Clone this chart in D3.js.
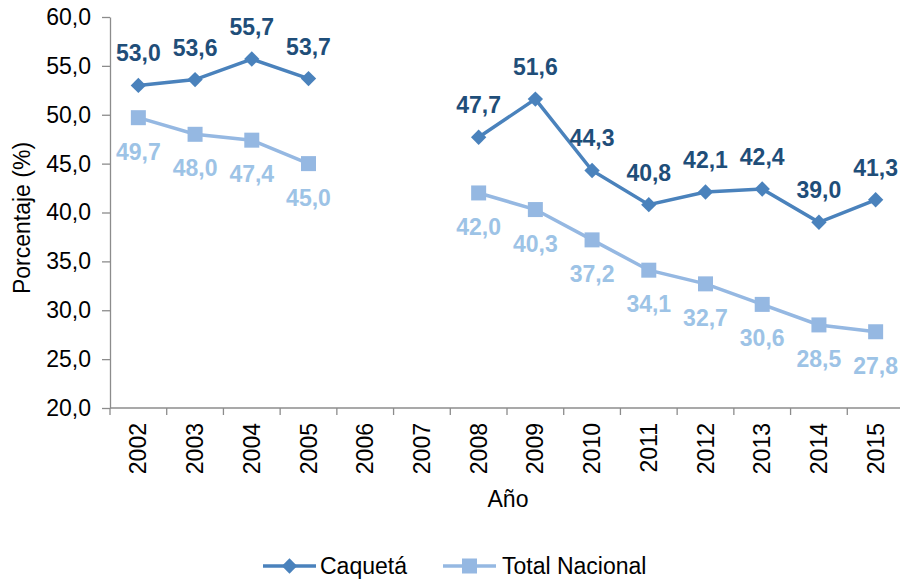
<!DOCTYPE html>
<meta charset="utf-8">
<head>
<style>
  body { margin: 0; background: #fff; }
  text { font-family: "Liberation Sans", Arial, sans-serif; }
  .axis line, .axis path { stroke: #8c8c8c; stroke-width: 1.3px; }
</style>
</head>
<body>
<script src="https://d3js.org/d3.v7.min.js"></script>
<script>

// data
var years = ["2002","2003","2004","2005","2006","2007","2008","2009","2010","2011","2012","2013","2014","2015"];
var caqueta = [53.0, 53.6, 55.7, 53.7, null, null, 47.7, 51.6, 44.3, 40.8, 42.1, 42.4, 39.0, 41.3];
var nacional = [49.7, 48.0, 47.4, 45.0, null, null, 42.0, 40.3, 37.2, 34.1, 32.7, 30.6, 28.5, 27.8];
var yTicks = [20, 25, 30, 35, 40, 45, 50, 55, 60];

var W = 900, H = 582;
var mLeft = 110, mRight = 904, mTop = 17, mBottom = 408;
var fs = 23;

var svg = d3.select("body").append("svg")
    .attr("width", W)
    .attr("height", H);

var x = d3.scaleBand().domain(years).range([mLeft, mRight]);
var y = d3.scaleLinear().domain([20, 60]).range([mBottom, mTop]);
var fmt = function(v) { return d3.format(".1f")(v).replace(".", ","); };

// y axis
var yAxis = svg.append("g")
    .attr("class", "axis")
    .attr("transform", "translate(" + mLeft + ",0)")
    .call(d3.axisLeft(y).tickValues(yTicks).tickSize(8).tickSizeOuter(0).tickFormat(fmt));
yAxis.selectAll("text")
    .attr("font-size", fs)
    .attr("font-family", "Liberation Sans, Arial, sans-serif")
    .attr("fill", "#000")
    .attr("x", -19);

// x axis: ticks at band edges
var xg = svg.append("g").attr("class", "axis");
xg.append("line")
    .attr("x1", mLeft).attr("x2", mRight)
    .attr("y1", mBottom).attr("y2", mBottom);
xg.selectAll(".tk")
    .data(years)
    .enter().append("line")
    .attr("x1", d => x(d)).attr("x2", d => x(d))
    .attr("y1", mBottom).attr("y2", mBottom + 7);
xg.selectAll(".lbl")
    .data(years)
    .enter().append("text")
    .attr("transform", d => "translate(" + (x(d) + x.bandwidth() / 2 + 8) + "," + (mBottom + 15) + ") rotate(-90)")
    .attr("text-anchor", "end")
    .attr("font-size", fs)
    .attr("fill", "#000")
    .text(d => d);

// axis titles
svg.append("text")
    .attr("transform", "translate(30,218) rotate(-90)")
    .attr("text-anchor", "middle")
    .attr("font-size", fs)
    .text("Porcentaje (%)");

svg.append("text")
    .attr("x", 508).attr("y", 507)
    .attr("text-anchor", "middle")
    .attr("font-size", fs)
    .text("Año");

var cx = function(i) { return x(years[i]) + x.bandwidth() / 2; };

var line = d3.line()
    .defined(d => d.v != null)
    .x(d => cx(d.i))
    .y(d => y(d.v));

function series(vals, color, labelColor, marker, labelDy) {
  var pts = vals.map((v, i) => ({ v: v, i: i }));
  svg.append("path")
      .datum(pts)
      .attr("fill", "none")
      .attr("stroke", color)
      .attr("stroke-width", 3.5)
      .attr("d", line);
  var ok = pts.filter(d => d.v != null);
  if (marker == "diamond") {
    svg.selectAll(null).data(ok).enter().append("path")
        .attr("transform", d => "translate(" + cx(d.i) + "," + y(d.v) + ")")
        .attr("d", d3.symbol().type(d3.symbolDiamond2).size(150))
        .attr("fill", color);
  } else {
    svg.selectAll(null).data(ok).enter().append("rect")
        .attr("x", d => cx(d.i) - 7.5)
        .attr("y", d => y(d.v) - 7.5)
        .attr("width", 15).attr("height", 15)
        .attr("fill", color);
  }
  svg.selectAll(null).data(ok).enter().append("text")
      .attr("x", d => cx(d.i))
      .attr("y", d => y(d.v) + labelDy)
      .attr("text-anchor", "middle")
      .attr("font-size", fs)
      .attr("font-weight", "bold")
      .attr("fill", labelColor)
      .text(d => fmt(d.v));
}

series(caqueta, "#4a82bc", "#1f4e79", "diamond", -24);
series(nacional, "#95b8e2", "#9dc3e6", "square", 42);

// legend
var lg = svg.append("g");
lg.append("line").attr("x1", 263).attr("x2", 316).attr("y1", 566).attr("y2", 566)
    .attr("stroke", "#4a82bc").attr("stroke-width", 3.5);
lg.append("path").attr("transform", "translate(289.5,566)")
    .attr("d", d3.symbol().type(d3.symbolDiamond2).size(150)).attr("fill", "#4a82bc");
lg.append("text").attr("x", 320).attr("y", 574).attr("font-size", fs).text("Caquetá");

lg.append("line").attr("x1", 443).attr("x2", 496).attr("y1", 566).attr("y2", 566)
    .attr("stroke", "#95b8e2").attr("stroke-width", 3.5);
lg.append("rect").attr("x", 462).attr("y", 558.5).attr("width", 15).attr("height", 15)
    .attr("fill", "#95b8e2");
lg.append("text").attr("x", 502).attr("y", 574).attr("font-size", fs).text("Total Nacional");

</script>
</body>
